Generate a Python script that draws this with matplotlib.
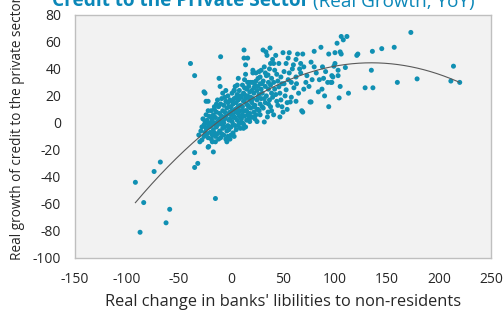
import numpy as np
import matplotlib
matplotlib.use('Agg')
import matplotlib.pyplot as plt

plt.rcParams['font.family'] = ['Open Sans', 'DejaVu Sans']
plt.rcParams['axes.unicode_minus'] = False

# far-out points on the left / low side
tail_pts = [(-39, 44), (-35, 35), (-35, -22), (-32, -30), (-35, -33), (-17, -21.5),
            (-21.5, -17.5), (-15, -56), (-68, -29), (-74, -36), (-92, -44), (-84, -59),
            (-59, -64), (-62.5, -74), (-87.5, -81)]

# main cloud, read band by band along x
core_pts = [
    # -30 .. -20
    (-29, -6), (-31, -9), (-28, -12.6), (-26, -1.5), (-27, 3), (-24, -4), (-25, 1), (-23, -8),
    (-22, -11), (-21, -3), (-24, 6), (-22, 9), (-20, -7), (-26, -10), (-28, -3), (-23, 2),
    (-21, 5), (-20, 0), (-25, -7), (-22, -1), (-26, 23), (-25, 22), (-24, 16), (-22, 16),
    (-22, -18), (-30, -14),
    # -20 .. -10
    (-19, -12), (-18, -9), (-17, -5), (-16, -7.4), (-19, -2), (-18, 2), (-17, 6), (-16, 10),
    (-15, -10), (-14, -3), (-13, 1), (-15, 4), (-14, 8), (-12, 12), (-16, 12), (-13, 17),
    (-11, -6), (-12, -12), (-10, -11), (-19, 4), (-18, -14), (-11, 3), (-11, 7), (-10, 14),
    (-15, -14), (-13, -8), (-17, 0), (-12, -1), (-14, 14), (-10, 0), (-19, 9), (-16, -1),
    # -10 .. 0
    (-9, -8), (-8, -4), (-7, 0), (-6, 3), (-5, -12), (-4, -6), (-3, -2), (-2, 2), (-1, -12),
    (0, -9), (-9, 5), (-8, 9), (-7, 13), (-6, 8), (-5, 5), (-4, 11), (-3, 15), (-2, 7),
    (-1, 3), (-9, 18), (-8, 22), (-6, 19), (-5, 24), (-3, 20), (-2, 12), (-1, 17), (-7, -9),
    (-4, -14), (-2, -5), (-8, 1), (-6, -3), (-10.5, 27), (-11.5, 33), (-10, 49), (-3, -10),
    (-1, 8), (-5, 16), (-9, -1),
    # 0 .. 10
    (0, -3), (1, 1), (2, -7.4), (3, 4), (4, -2), (5, 8), (6, 2), (7, 12), (8, 5), (9, -4),
    (1, 9), (2, 14), (3, 18), (4, 10), (5, 15), (6, 21), (7, 17), (8, 24), (9, 13), (0, 6),
    (1, 22), (3, 24), (4, 27), (5, 19), (6, 11), (7, 7), (8, 0), (9, 9), (2, -1), (3, -10),
    (5, -5), (7, -2), (0, 12), (1, 16), (6, 28), (8, 18), (9, 20), (4, 4), (2, 6), (10, 3),
    (7, 33), (3, 24),
    # 10 .. 20
    (11, 0), (12, -4), (13, 5), (14, 9), (15, 2), (16, 13), (17, 3), (18, 7), (19, 11),
    (11, 12), (12, 16), (13, 21), (14, 18), (15, 25), (16, 20), (17, 27), (18, 23), (19, 30),
    (11, 6), (12, 9), (13, 26), (14, 36), (15, 14), (16, 30), (17, 30), (18, 17), (19, 19),
    (20, 24), (10, 19), (11, 28), (12, -1), (14, -3), (16, 6), (18, 1), (13, 32), (17, 12),
    (19, 4), (20, 15), (15, 9), (12, 22), (12.5, 54), (12.5, 48), (16, 48), (14, 43),
    # 20 .. 30
    (21, 4.4), (22, 8), (23, 13), (24, 6), (25, 17), (26, 10), (27, 21), (28, 14), (29, 25),
    (21, 18), (22, 22), (23, 28), (24, 31), (25, 24), (26, 33), (27, 38), (28, 29), (29, 39),
    (21, 30), (22, 12), (23, 3), (25, 1), (26, 19), (27, 9), (28, 34), (29, 18), (30, 22),
    (21, 37), (24, 37), (30, 12), (22, 26), (26, 27), (28, 6), (25, 10), (21, 39),
    # 30 .. 40
    (31, 11), (32, 0.7), (33, 15), (34, 20), (35, 4.4), (35.6, 8), (36, 25), (37, 17),
    (38, 28), (39, 22), (31, 31), (32, 41.5), (33, 27), (34, 35), (35.6, 35.5), (36, 30),
    (37, 40), (38, 12), (39, 33), (30.8, 54), (33.6, 52.6), (37.5, 55.5), (34.6, 50),
    (40, 47), (32, 18), (36, 14), (39, 9), (33, 37), (38, 44), (30, 29),
    # 40 .. 50
    (41, 6), (47, 4.4), (50, 8), (45, 13), (48, 17), (43, 21), (41, 30), (46, 26.7), (48, 34),
    (51, 38), (41, 44), (46, 44), (43, 50), (44, 16), (42, 25), (47, 22), (49, 29), (44, 36),
    (42, 39), (45, 31), (49, 12), (40, 19),
    # 50 .. 60
    (50, 52), (56, 52), (55, 48), (53, 44), (56, 37), (58, 30), (53, 24.5), (57, 15.5),
    (54, 15), (60.5, 26), (52, 20), (55, 32), (59, 40), (51, 29), (58, 19), (54, 10),
    # 60 .. 80
    (64, 51), (69, 51), (62.5, 47), (60, 43), (67, 44), (70, 41.5), (77, 45), (80, 41.5),
    (67, 37), (62.5, 34), (72, 30), (75, 27), (76, 15.5), (77, 15.5), (69, 8), (62.5, 16),
    (68, 9), (65, 22), (70, 25), (63, 29), (73, 35), (78, 32), (80, 53), (66, 40),
    # 80 .. 100
    (86.5, 56), (94, 51), (100, 52), (88, 41.5), (91, 38), (97, 35), (85, 32), (89, 33),
    (93, 30), (97, 30), (84, 23), (87.5, 25), (94, 12), (98, 34), (96, 30), (99, 42),
    (100, 44), (82, 37), (90, 20),
]

# sparse points on the right
right_pts = [(106, 64), (111.5, 64), (108, 61.5), (102, 59), (105, 52.6), (106, 51), (110, 41),
             (103, 39), (103, 35), (104, 18.5), (105, 27), (113, 22), (121, 50), (122, 51),
             (136, 53), (145, 55), (157, 56), (173, 67), (135, 39), (136.5, 26), (129, 26),
             (160, 30), (179, 32.6), (214, 42), (211.5, 31), (220, 30)]

# order-2 trendline as shown on the chart (x^2, x, const)
trend_coef = [-0.00201, 0.5427, 7.87]

pts = np.array(tail_pts + core_pts + right_pts)
x = pts[:, 0]
y = pts[:, 1]

xt = np.linspace(x.min(), x.max(), 200)
yt = np.polyval(trend_coef, xt)

fig = plt.figure(figsize=(5.04, 3.10), dpi=100)
ax = fig.add_axes([0.149, 0.168, 0.825, 0.784])
ax.set_facecolor('#f2f2f2')

ax.scatter(x, y, s=13, color='#1090b3', edgecolors='none', zorder=3)
ax.plot(xt, yt, color='#595959', lw=0.8, zorder=4)

ax.set_xlim(-150, 250)
ax.set_ylim(-100, 80)
ax.set_xticks(range(-150, 251, 50))
ax.set_yticks(range(-100, 81, 20))
ax.tick_params(length=0, labelsize=10, labelcolor='#262626')
ax.tick_params(axis='y', pad=10)
ax.tick_params(axis='x', pad=10)
for s in ax.spines.values():
    s.set_color('#bfbfbf')
    s.set_linewidth(1)

ax.set_xlabel("Real change in banks' libilities to non-residents", fontsize=11.8,
              color='#262626', labelpad=5)
fig.text(18 / 504, 1 - 260 / 310, 'Real growth of credit to the private sector',
         rotation=90, ha='center', va='bottom', fontsize=9.8, color='#262626')

fig.text(52 / 504, 1 - 6.5 / 310, 'Credit to the Private Sector', fontsize=13.7,
         fontweight='bold', color='#0b87b8', ha='left', va='baseline')
fig.text(313 / 504, 1 - 6.5 / 310, '(Real Growth, YoY)', fontsize=13.6,
         color='#0b87b8', ha='left', va='baseline')

fig.savefig('out.png', dpi=100)
